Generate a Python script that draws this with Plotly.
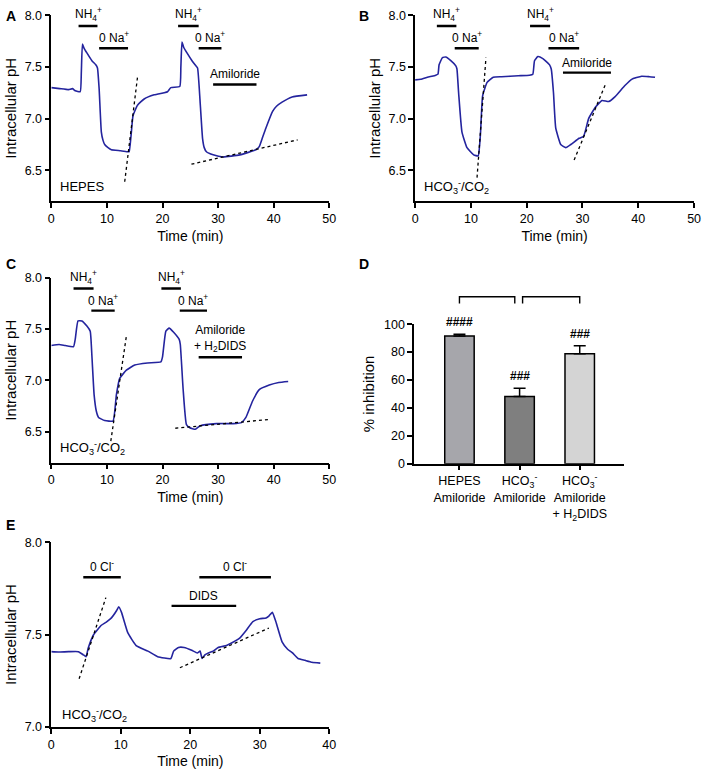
import plotly.graph_objects as go

W, H = 708, 778
LINE = "#24249e"
FONT = "Liberation Sans, Arial, Helvetica, sans-serif"

# ---------------- Panel A (HEPES) ----------------
a_t = [0, 1.5, 3.1, 3.8, 4.3, 5.2, 5.4, 5.6, 5.9, 6.4, 7.3, 8.0, 8.3, 8.6, 9.0, 9.3, 9.6, 10.2, 10.8, 12.5, 13.8, 14.0,
       14.4, 14.7, 15.5, 16.7, 18.5, 20.3, 20.9, 21.5, 23.1, 23.3, 23.5, 23.8, 24.4, 25.3, 26.0, 26.3, 26.8, 27.2,
       27.5, 27.9, 29.1, 30.9, 33.9, 36.8, 37.4, 38.0, 38.6, 39.8, 40.5, 41.5, 43.3, 46.0]
a_ph = [7.30, 7.29, 7.28, 7.29, 7.27, 7.26, 7.45, 7.72, 7.68, 7.635, 7.56, 7.52, 7.49, 7.29, 6.87, 6.79, 6.75, 6.72, 6.70, 6.69, 6.68, 6.68,
        6.87, 7.03, 7.13, 7.19, 7.23, 7.25, 7.26, 7.30, 7.31, 7.50, 7.74, 7.69, 7.635, 7.56, 7.51, 7.49, 7.13, 6.81,
        6.72, 6.68, 6.65, 6.63, 6.65, 6.70, 6.73, 6.82, 6.91, 7.07, 7.12, 7.16, 7.21, 7.23]
a_dash1_t, a_dash1_ph = [13.2, 15.5], [6.39, 7.40]
a_dash2_t, a_dash2_ph = [25.2, 44.3], [6.56, 6.795]
a_bars = [("NH<sub>4</sub><sup>+</sup>", 4.9, 8.3, 7.895),
          ("0 Na<sup>+</sup>", 8.6, 13.8, 7.68),
          ("NH<sub>4</sub><sup>+</sup>", 22.8, 26.5, 7.895),
          ("0 Na<sup>+</sup>", 26.5, 30.6, 7.68),
          ("Amiloride", 29.1, 36.9, 7.33)]

# ---------------- Panel B (HCO3-/CO2) ----------------
b_t = [0, 1.0, 2.2, 3.0, 3.7, 4.1, 4.3, 4.9, 5.5, 6.4, 7.3, 7.5, 7.8, 8.4, 9.3, 10.5, 11.3, 11.7, 12.1, 12.9, 14.0,
       15.5, 17.0, 18.5, 20.5, 21.1, 21.4, 22.0, 22.9, 24.1, 24.4, 24.8, 25.2, 26.1, 27.0, 27.9, 29.4, 30.2, 31.1,
       32.3, 33.5, 34.7, 35.8, 37.6, 38.8, 40.6, 42.0, 43.0]
b_ph = [7.375, 7.38, 7.40, 7.41, 7.42, 7.43, 7.52, 7.59, 7.595, 7.56, 7.51, 7.48, 7.25, 6.87, 6.72, 6.65, 6.64, 6.84, 7.22, 7.35, 7.40,
        7.405, 7.41, 7.415, 7.42, 7.43, 7.56, 7.60, 7.58, 7.52, 7.48, 7.25, 6.91, 6.75, 6.72, 6.75, 6.81, 6.83, 7.00,
        7.11, 7.175, 7.165, 7.21, 7.32, 7.38, 7.41, 7.405, 7.40]
b_dash1_t, b_dash1_ph = [11.1, 12.7], [6.43, 7.59]
b_dash2_t, b_dash2_ph = [28.5, 34.1], [6.60, 7.33]
b_bars = [("NH<sub>4</sub><sup>+</sup>", 3.9, 7.4, 7.895),
          ("0 Na<sup>+</sup>", 7.1, 11.4, 7.68),
          ("NH<sub>4</sub><sup>+</sup>", 20.6, 24.2, 7.895),
          ("0 Na<sup>+</sup>", 23.9, 29.4, 7.68),
          ("Amiloride", 26.5, 35.1, 7.445)]

# ---------------- Panel C (HCO3-/CO2, amiloride + H2DIDS) ----------------
c_t = [0, 1.4, 2.5, 4.0, 4.3, 4.8, 5.5, 6.4, 7.0, 7.3, 7.7, 8.1, 8.5, 9.6, 11.1, 11.7, 12.3, 13.5, 15.0,
       17.3, 19.7, 20.0, 20.6, 21.2, 22.0, 23.0, 23.2, 23.7, 24.3, 24.9, 25.9, 26.8, 29.7, 32.7,
       34.2, 35.0, 36.2, 37.4, 39.2, 40.9, 42.6]
c_ph = [7.34, 7.35, 7.34, 7.33, 7.40, 7.58, 7.58, 7.53, 7.48, 7.24, 6.86, 6.70, 6.64, 6.61, 6.605, 6.86, 7.02, 7.10, 7.15,
        7.17, 7.18, 7.23, 7.48, 7.51, 7.47, 7.40, 7.35, 6.92, 6.57, 6.54, 6.525, 6.56, 6.58, 6.58,
        6.59, 6.64, 6.80, 6.91, 6.955, 6.98, 6.99]
c_dash1_t, c_dash1_ph = [10.7, 13.5], [6.41, 7.43]
c_dash2_t, c_dash2_ph = [22.3, 39.1], [6.535, 6.62]
c_bars = [("NH<sub>4</sub><sup>+</sup>", 4.0, 7.6, 7.895),
          ("0 Na<sup>+</sup>", 7.2, 11.4, 7.68),
          ("NH<sub>4</sub><sup>+</sup>", 19.8, 23.3, 7.895),
          ("0 Na<sup>+</sup>", 23.1, 28.0, 7.68),
          ("Amiloride<br>+ H<sub>2</sub>DIDS", 26.5, 34.3, 7.226)]

# ---------------- Panel D (% inhibition) ----------------
d_categories = ["HEPES<br>Amiloride",
                "HCO<sub>3</sub><sup>-</sup><br>Amiloride",
                "HCO<sub>3</sub><sup>-</sup><br>Amiloride<br>+ H<sub>2</sub>DIDS"]
d_values = [91.5, 48.2, 78.8]
d_errors = [1.3, 5.8, 5.7]
d_colors = ["#a6a6ab", "#7f7f7f", "#d4d4d4"]
d_marks = ["####", "###", "###"]

# ---------------- Panel E (0 Cl-, DIDS) ----------------
e_t = [0, 1.0, 2.5, 3.9, 4.6, 5.0, 5.3, 6.1, 7.2, 8.0, 8.65, 9.4, 9.7, 10.1, 11.0, 12.2, 13.9, 15.3, 17.2,
       17.6, 18.3, 19.1, 20.2, 21.0, 21.4, 21.7, 22.1, 22.6, 23.3, 24.0, 25.2, 26.0, 27.1, 28.0, 29.0, 30.0,
       30.9, 31.3, 31.8, 32.3, 33.2, 34.0, 34.7, 35.5, 36.5, 37.5, 38.7]
e_ph = [7.407, 7.405, 7.407, 7.407, 7.39, 7.38, 7.425, 7.50, 7.55, 7.57, 7.59, 7.63, 7.65, 7.62, 7.51, 7.44, 7.41, 7.38, 7.37,
        7.41, 7.43, 7.43, 7.415, 7.40, 7.41, 7.37, 7.39, 7.40, 7.41, 7.43, 7.44, 7.455, 7.48, 7.52, 7.57, 7.585,
        7.59, 7.60, 7.62, 7.57, 7.46, 7.42, 7.40, 7.37, 7.36, 7.35, 7.345]
e_dash1_t, e_dash1_ph = [4.0, 7.85], [7.26, 7.70]
e_dash2_t, e_dash2_ph = [18.5, 31.3], [7.32, 7.535]
e_bars = [("0 Cl<sup>-</sup>", 4.6, 10.0, 7.81),
          ("0 Cl<sup>-</sup>", 21.3, 31.6, 7.81),
          ("DIDS", 17.3, 26.6, 7.655)]


def dx(l, r):
    return [l / W, r / W]


def dy(top, bottom):
    return [1 - bottom / H, 1 - top / H]


TICK = 12.5
XTITLE = 14
YTITLE = 15
ANN = 12

fig = go.Figure()
ann = []
shapes = []


def add_trace_panel(n, t, ph, d1, d2, bars, cond_text, cond_pos):
    xa, ya = ("x" if n == 1 else f"x{n}"), ("y" if n == 1 else f"y{n}")
    fig.add_trace(go.Scatter(x=t, y=ph, mode="lines", line=dict(color=LINE, width=1.6, shape="spline", smoothing=0.4),
                             xaxis=xa, yaxis=ya, showlegend=False, hoverinfo="skip"))
    for dt, dp in (d1, d2):
        fig.add_trace(go.Scatter(x=dt, y=dp, mode="lines",
                                 line=dict(color="black", width=1.3, dash="dot"),
                                 xaxis=xa, yaxis=ya, showlegend=False, hoverinfo="skip"))
    for label, t0, t1, yv in bars:
        fig.add_trace(go.Scatter(x=[t0, t1], y=[yv, yv], mode="lines",
                                 line=dict(color="black", width=2.4),
                                 xaxis=xa, yaxis=ya, showlegend=False, hoverinfo="skip"))
        ann.append(dict(x=(t0 + t1) / 2, y=yv, xref=xa, yref=ya, text=label, showarrow=False,
                        xanchor="center", yanchor="bottom", yshift=1,
                        font=dict(size=ANN, color="black", family=FONT)))
    ann.append(dict(x=cond_pos[0], y=cond_pos[1], xref=xa, yref=ya, text=cond_text, showarrow=False,
                    xanchor="left", yanchor="middle", font=dict(size=13, color="black", family=FONT)))


add_trace_panel(1, a_t, a_ph, (a_dash1_t, a_dash1_ph), (a_dash2_t, a_dash2_ph), a_bars, "HEPES", (1.2, 6.34))
add_trace_panel(2, b_t, b_ph, (b_dash1_t, b_dash1_ph), (b_dash2_t, b_dash2_ph), b_bars,
                "HCO<sub>3</sub><sup>-</sup>/CO<sub>2</sub>", (1.3, 6.34))
add_trace_panel(3, c_t, c_ph, (c_dash1_t, c_dash1_ph), (c_dash2_t, c_dash2_ph), c_bars,
                "HCO<sub>3</sub><sup>-</sup>/CO<sub>2</sub>", (1.2, 6.34))
add_trace_panel(5, e_t, e_ph, (e_dash1_t, e_dash1_ph), (e_dash2_t, e_dash2_ph), e_bars,
                "HCO<sub>3</sub><sup>-</sup>/CO<sub>2</sub>", (1.2, 7.065))

# Panel D bars
d_x = list(range(len(d_values)))
fig.add_trace(go.Bar(x=d_x, y=d_values, width=0.49, marker=dict(color=d_colors, line=dict(color="black", width=1.5)),
                     error_y=dict(type="data", array=d_errors, arrayminus=[0] * 3, symmetric=False,
                                  color="black", thickness=1.5, width=6),
                     xaxis="x4", yaxis="y4", showlegend=False, hoverinfo="skip"))
for xi, v, e, m in zip(d_x, d_values, d_errors, d_marks):
    ann.append(dict(x=xi, y=v + e, xref="x4", yref="y4", text=f"<b>{m}</b>", showarrow=False, yanchor="bottom", yshift=3,
                    font=dict(size=12, color="black", family=FONT)))
# brackets
for x0, x1 in ((0, 0.92), (1.05, 2)):
    shapes.append(dict(type="path", xref="x4", yref="paper",
                       path=f"M {x0},{1 - 302 / H} L {x0},{1 - 295 / H} L {x1},{1 - 295 / H} L {x1},{1 - 302 / H}",
                       line=dict(color="black", width=1.4)))

# Panel letters
for letter, px, py in (("A", 8, 9), ("B", 366, 9), ("C", 8, 262), ("D", 366, 262), ("E", 8, 527)):
    ann.append(dict(x=px / W, y=1 - py / H, xref="paper", yref="paper", text=f"<b>{letter}</b>", showarrow=False,
                    xanchor="center", yanchor="middle", font=dict(size=14, color="black", family=FONT)))

axis_common = dict(showline=True, linecolor="black", linewidth=1.5, ticks="outside", ticklen=5, tickwidth=1.5,
                   tickcolor="black", showgrid=False, zeroline=False,
                   tickfont=dict(size=TICK, color="black", family=FONT))

def xax(domain, anchor, rng, dtick):
    return dict(domain=domain, anchor=anchor, range=rng, dtick=dtick, title_text="Time (min)",
                title_standoff=6, title_font=dict(size=XTITLE, color="black", family=FONT), **axis_common)

def yax(domain, anchor, rng, tickvals):
    return dict(domain=domain, anchor=anchor, range=rng, tickvals=tickvals,
                ticktext=[f"{v:.1f}" for v in tickvals], title_text="Intracellular pH",
                title_standoff=4, title_font=dict(size=YTITLE, color="black", family=FONT), **axis_common)

ph_ticks = [6.5, 7.0, 7.5, 8.0]
fig.update_layout(
    width=W, height=H, margin=dict(l=0, r=0, t=0, b=0),
    paper_bgcolor="white", plot_bgcolor="white",
    font=dict(family=FONT, color="black"),
    xaxis=xax(dx(49, 331), "y", [0, 50], 10),
    yaxis=yax(dy(8.3, 198), "x", [6.2, 8.0], ph_ticks),
    xaxis2=xax(dx(418, 701), "y2", [0, 50], 10),
    yaxis2=yax(dy(8.3, 198), "x2", [6.2, 8.0], ph_ticks),
    xaxis3=xax(dx(49, 331), "y3", [0, 50], 10),
    yaxis3=yax(dy(275.7, 464), "x3", [6.2, 8.0], ph_ticks),
    xaxis4=dict(domain=dx(417, 630), anchor="y4", range=[-0.754, 2.738], tickvals=d_x, ticktext=d_categories,
                **axis_common),
    yaxis4=dict(domain=dy(323, 465), anchor="x4", range=[0, 100], dtick=20, title_text="% inhibition",
                title_standoff=6, title_font=dict(size=YTITLE, color="black", family=FONT), **axis_common),
    xaxis5=xax(dx(49, 331), "y5", [0, 40], 10),
    yaxis5=yax(dy(545, 733), "x5", [7.0, 8.0], [7.0, 7.5, 8.0]),
    annotations=ann, shapes=shapes,
)

fig.write_html("out.html", config={"displayModeBar": False},
               post_script="document.body.style.margin='0';document.body.style.overflow='hidden';")
